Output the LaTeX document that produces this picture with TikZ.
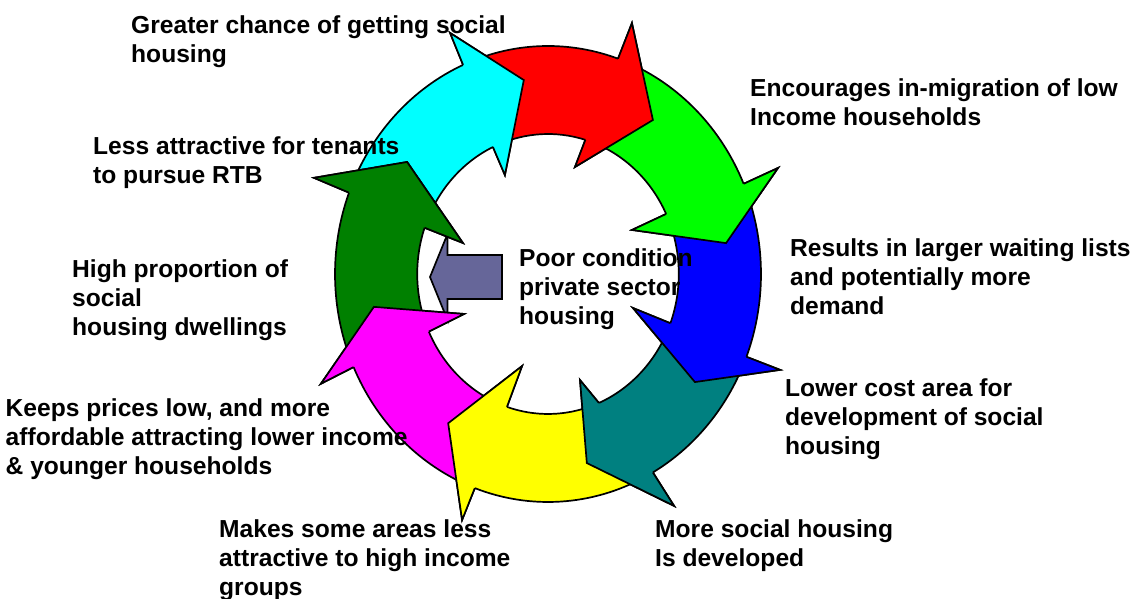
\documentclass[tikz,border=0pt]{standalone}
\usepackage{fontspec}
\setmainfont{Liberation Sans}
\definecolor{arCyan}{HTML}{00FFFF}
\definecolor{arRed}{HTML}{FF0000}
\definecolor{arGreen}{HTML}{00FF00}
\definecolor{arBlue}{HTML}{0000FF}
\definecolor{arTeal}{HTML}{008080}
\definecolor{arYellow}{HTML}{FFFF00}
\definecolor{arMagenta}{HTML}{FF00FF}
\definecolor{arDkGreen}{HTML}{008000}
\definecolor{arPurple}{HTML}{666699}
\begin{document}
\begin{tikzpicture}[x=1pt,y=1pt,
  arrowline/.style={draw=black, line width=1.7pt, line join=miter},
  lbl/.style={font=\bfseries\fontsize{24.6}{29}\selectfont, align=left, anchor=base west, inner sep=0pt}]
\useasboundingbox (0,0) rectangle (1143,599);
\fill[white] (0,0) rectangle (1143,599);
% central block arrow
\filldraw[arrowline, fill=arPurple] (502,344) -- (447.5,344) -- (447.5,365) -- (430,322) -- (447.5,279) -- (447.5,300) -- (502,300) -- cycle;
\begin{scope}[shift={(548,325)}, x=213pt, y=228pt]
  % pass 1: full arrows
  \foreach \cl/\tO/\tI/\bO/\bI/\aO/\rO/\aT/\rT/\aI/\rI in {
    arCyan/156.6/158.2/113.5/114.9/113.5/1.153/97.6/0.858/115/0.479,
    arRed/111/112.4/70.8/73.4/70.3/1.169/53.9/0.836/74.9/0.486,
    arGreen/68.3/70.9/23.3/25.4/23.3/1.176/9.2/0.847/26.1/0.439,
    arBlue/20.8/22.9/-21.3/-20.6/-21.1/1.168/-34.5/0.837/-20.5/0.426,
    arTeal/-23.8/-23.1/-60.5/-67.1/-59.8/1.177/-77.6/0.849/-72.1/0.489,
    arYellow/-63/-69.6/-110.1/-108.3/-110.5/1.152/-125.6/0.805/-106.8/0.422,
    arMagenta/-112.6/-110.8/-155.9/-155.7/-155.7/1.170/-170/0.830/-156/0.431,
    arDkGreen/201.6/201.8/159.1/160.7/159/1.177/143.4/0.824/161.2/0.422}
  {
    \filldraw[arrowline, fill=\cl] (\tO:1) arc[start angle=\tO, end angle=\bO, x radius=213pt, y radius=228pt]
      -- (\aO:\rO) -- (\aT:\rT) -- (\aI:\rI) -- (\bI:0.614)
      arc[start angle=\bI, end angle=\tI, x radius=130.8pt, y radius=140pt] -- cycle;
  }
  % pass 2: heads on top
  \foreach \cl/\tO/\tI/\bO/\bI/\aO/\rO/\aT/\rT/\aI/\rI in {
    arCyan/156.6/158.2/113.5/114.9/113.5/1.153/97.6/0.858/115/0.479,
    arRed/111/112.4/70.8/73.4/70.3/1.169/53.9/0.836/74.9/0.486,
    arGreen/68.3/70.9/23.3/25.4/23.3/1.176/9.2/0.847/26.1/0.439,
    arBlue/20.8/22.9/-21.3/-20.6/-21.1/1.168/-34.5/0.837/-20.5/0.426,
    arTeal/-23.8/-23.1/-60.5/-67.1/-59.8/1.177/-77.6/0.849/-72.1/0.489,
    arYellow/-63/-69.6/-110.1/-108.3/-110.5/1.152/-125.6/0.805/-106.8/0.422,
    arMagenta/-112.6/-110.8/-155.9/-155.7/-155.7/1.170/-170/0.830/-156/0.431,
    arDkGreen/201.6/201.8/159.1/160.7/159/1.177/143.4/0.824/161.2/0.422}
  {
    \fill[\cl] (\bO:1) -- (\aO:\rO) -- (\aT:\rT) -- (\aI:\rI) -- (\bI:0.614) -- cycle;
    \draw[arrowline] (\bO:1) -- (\aO:\rO) -- (\aT:\rT) -- (\aI:\rI) -- (\bI:0.614);
  }
\end{scope}
\node[lbl] (t1) at (131,536.5) {Greater chance of getting social\\housing};
\node[lbl] (t2) at (750,473.7) {Encourages in-migration of low\\Income households};
\node[lbl] (t3) at (790,284.7) {Results in larger waiting lists\\and potentially more\\demand};
\node[lbl] (t4) at (785,144.7) {Lower cost area for\\development of social\\housing};
\node[lbl] (t5) at (655,32.7) {More social housing\\Is developed};
\node[lbl] (t6) at (219,3.7) {Makes some areas less\\attractive to high income\\groups};
\node[lbl] (t7) at (5.5,124) {Keeps prices low, and more\\affordable attracting lower income\\\& younger households};
\node[lbl] (t8) at (72,263.7) {High proportion of\\social\\housing dwellings};
\node[lbl] (t9) at (93,415.7) {Less attractive for tenants\\to pursue RTB};
\node[lbl] (t10) at (519,274.7) {Poor condition\\private sector\\housing};
\end{tikzpicture}
\end{document}
